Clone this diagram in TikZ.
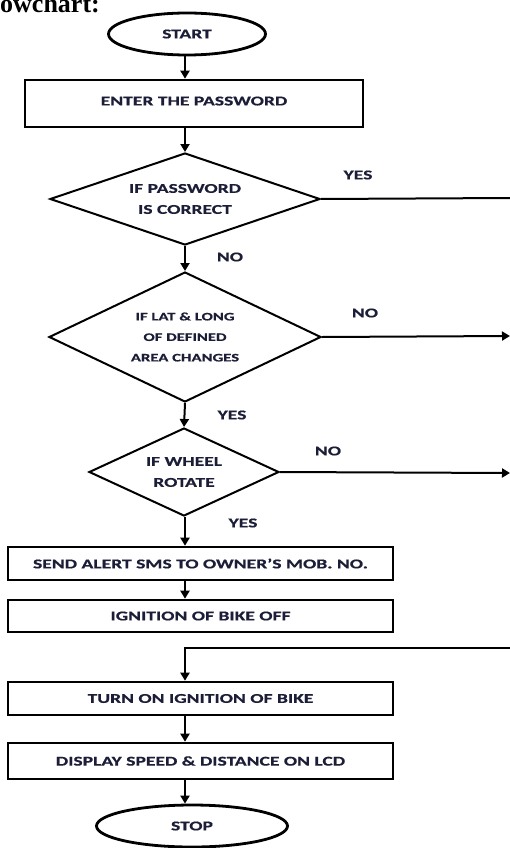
\documentclass[tikz,border=0pt]{standalone}
\usepackage{fontspec}
\setmainfont{Carlito}[FakeStretch=1.45, BoldFeatures={FakeBold=0.6}]
\newfontfamily\headfont{Liberation Serif}
\usetikzlibrary{shapes.geometric,arrows.meta}
\definecolor{ink}{RGB}{28,30,56}
\tikzset{
  box/.style={draw=black, line width=2.6pt, rectangle, minimum width=385pt, minimum height=33pt, inner sep=0pt, font=\bfseries\fontsize{13.5}{15}\selectfont, text=ink},
  term/.style={draw=black, line width=2.8pt, ellipse, inner sep=0pt, font=\bfseries\fontsize{13.5}{15}\selectfont, text=ink},
  dec/.style={draw=black, line width=2pt, diamond, inner sep=0pt, align=center, font=\bfseries\fontsize{13.5}{21}\selectfont, text=ink},
  arr/.style={draw=black, line width=2pt, -{Triangle[length=8pt,width=9pt]}},
  ln/.style={draw=black, line width=2pt},
  lab/.style={font=\bfseries\fontsize{13.5}{15}\selectfont, text=ink, inner sep=0pt}
}
\begin{document}
\begin{tikzpicture}[x=1pt,y=-1pt]
\useasboundingbox (0,0) rectangle (510,848);
\clip (0,0) rectangle (510,848);
\node[anchor=base west, inner sep=0pt, font=\headfont\bfseries\fontsize{26}{28}\selectfont] (head) at (0,13) {owchart:};
\node[term, minimum width=157pt, minimum height=42pt] (start) at (187,34) {START};
\node[box, minimum width=338pt, minimum height=47pt] (enter) at (194,103.5) {\raisebox{5pt}{ENTER THE PASSWORD}};
\node[dec, aspect=2.93, minimum width=270pt, minimum height=92pt] (d1) at (185,199) {IF PASSWORD\\IS CORRECT};
\node[dec, aspect=2.09, minimum width=272pt, minimum height=130pt, font=\bfseries\fontsize{11.5}{20.5}\selectfont] (d2) at (185,337) {IF LAT \& LONG\\OF DEFINED\\AREA CHANGES};
\node[dec, aspect=2.16, minimum width=190pt, minimum height=88pt] (d3) at (184,472) {IF WHEEL\\ROTATE};
\node[box] (send) at (200.5,563.5) {SEND ALERT SMS TO OWNER'S MOB. NO.};
\node[box, minimum height=32pt] (ign) at (200.5,616) {IGNITION OF BIKE OFF};
\node[box] (turn) at (200.5,698.5) {TURN ON IGNITION OF BIKE};
\node[box, minimum height=36pt] (disp) at (200.5,761) {DISPLAY SPEED \& DISTANCE ON LCD};
\node[term, minimum width=191pt, minimum height=42pt] (stop) at (192,826) {STOP};
% labels
\node[lab] (l1) at (358,175) {YES};
\node[lab] (l2) at (230,257) {NO};
\node[lab] (l3) at (365,313) {NO};
\node[lab] (l4) at (232,415) {YES};
\node[lab] (l5) at (328,451) {NO};
\node[lab] (l6) at (243,523) {YES};
% free ends
\coordinate (e1) at (510,198);
\coordinate (e2) at (510,336);
\coordinate (e3) at (510,473);
\coordinate (e4) at (510,648);
% connectors
\draw[arr] (start.south -| d1.north) -- (enter.north -| d1.north);
\draw[arr] (enter.south -| d1.north) -- (d1.north);
\draw[arr] (d1.south) -- (d2.north);
\draw[arr] (d2.south) -- (d3.north);
\draw[arr] (d3.south -| d1.south) -- (send.north -| d1.south);
\draw[arr] (send.south -| d1.south) -- (ign.north -| d1.south);
\draw[arr] (turn.south -| d1.south) -- (disp.north -| d1.south);
\draw[arr] (disp.south -| d1.south) -- (stop.north -| d1.south);
\draw[ln] (d1.east) -- (e1);
\draw[arr] (d2.east) -- (e2);
\draw[arr] (d3.east) -- (e3);
\draw[arr] (e4) -| (turn.north -| d1.south);
\end{tikzpicture}
\end{document}
